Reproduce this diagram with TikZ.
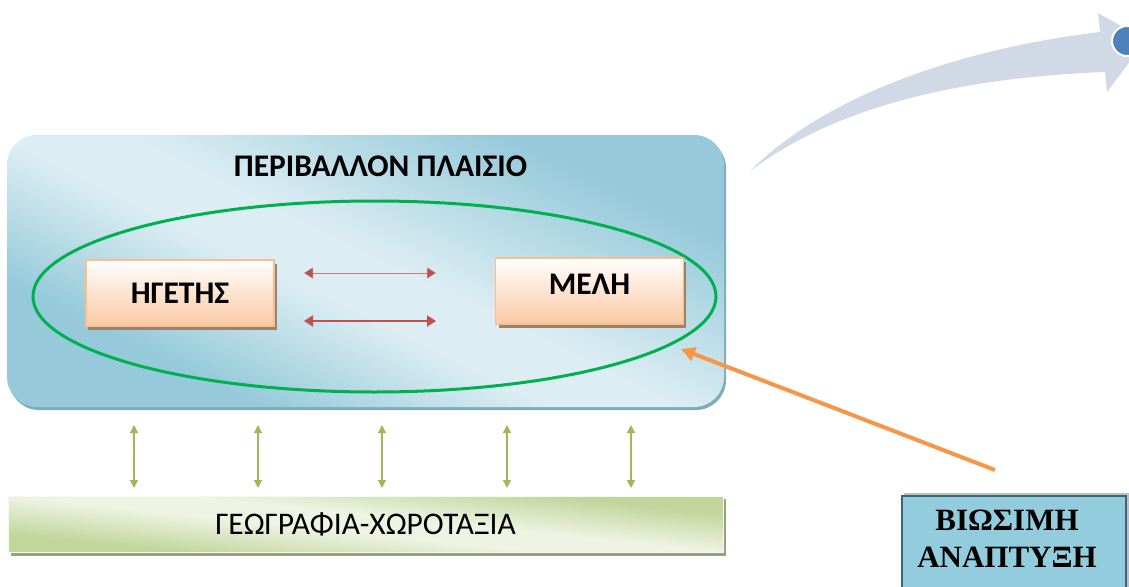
\documentclass[tikz,border=0pt]{standalone}
\usepackage{fontspec}
\setmainfont{Carlito}
\newfontfamily\timesfont{Liberation Serif}
\usetikzlibrary{arrows.meta,calc,shapes.geometric}

\definecolor{envdark}{HTML}{96CADA}
\definecolor{envlight}{HTML}{DCEDF3}
\definecolor{geodark}{HTML}{C2D69C}
\definecolor{geolight}{HTML}{EEF3E3}
\definecolor{peach}{HTML}{FAC9A3}
\definecolor{peachline}{HTML}{F9BF8F}
\definecolor{ovalgreen}{HTML}{00B050}
\definecolor{linkred}{HTML}{C0504D}
\definecolor{linkgreen}{HTML}{9BBB59}
\definecolor{pointorange}{HTML}{F79646}
\definecolor{sdbox}{HTML}{93CDDD}
\definecolor{sdline}{HTML}{3B6878}
\definecolor{flowgrey}{HTML}{D1D9E7}
\definecolor{dotblue}{HTML}{4F81BD}

\pgfdeclarehorizontalshading{envshade}{100bp}{color(0bp)=(envdark); color(30bp)=(envdark); color(45bp)=(envlight); color(52bp)=(envlight); color(72bp)=(envdark); color(100bp)=(envdark)}
\pgfdeclarehorizontalshading{geoshade}{100bp}{color(0bp)=(geodark); color(30bp)=(geodark); color(46bp)=(geolight); color(54bp)=(geolight); color(70bp)=(geodark); color(100bp)=(geodark)}

\tikzset{
  roleshadow/.style={fill=black!35!peach!80!gray, draw=none},
  rolebox/.style={draw=peachline, line width=1.2pt, top color=white, bottom color=peach,
    minimum width=188, minimum height=66, inner sep=0pt,
    font=\fontsize{31.5}{37}\selectfont\bfseries},
  twoway/.style={{Triangle[length=9,width=11]}-{Triangle[length=9,width=11]}, linkred},
  tieline/.style={{Triangle[length=8,width=8]}-{Triangle[length=8,width=8]}, linkgreen, line width=1.3pt},
}

\begin{document}
\begin{tikzpicture}[x=1pt,y=-1pt]
\useasboundingbox (0,0) rectangle (1129,586);

% sweeping arrow at the top right
\fill[flowgrey] (749,172) .. controls (820,100) and (950,50) .. (1100,32)
  -- (1098,13) -- (1146,40) -- (1107,92) -- (1105,72)
  .. controls (950,78) and (830,110) .. (749,172) -- cycle;
\node[circle, fill=dotblue, draw=white, line width=2pt, minimum size=30, inner sep=0pt] (dot) at (1127,41) {};

% surrounding framework
\fill[fill=black!15!envdark, rounded corners=30] (9,138) rectangle (726,410);
\node[rounded corners=30, shading=envshade, shading angle=64,
  minimum width=717, minimum height=272, inner sep=0pt] (env) at (365.5,271) {};
\node[font=\fontsize{31.5}{37}\selectfont\bfseries] (title) at (380.5,166) {ΠΕΡΙΒΑΛΛΟΝ ΠΛΑΙΣΙΟ};

% group oval
\node[ellipse, draw=ovalgreen, line width=3pt, minimum width=683, minimum height=191, inner sep=0pt] (group) at (374.5,296.5) {};

% leader and members
\fill[roleshadow] (88,264) rectangle (277,330);
\node[rolebox] (leader) at (180,293) {ΗΓΕΤΗΣ};
\fill[roleshadow] (499,262) rectangle (686,328);
\node[rolebox] (members) at (589.5,291) {};
\node[font=\fontsize{31.5}{37}\selectfont\bfseries] (memberstext) at (589.5,284) {ΜΕΛΗ};

\coordinate (r1a) at (304,273); \coordinate (r1b) at (436,273);
\coordinate (r2a) at (304,321); \coordinate (r2b) at (436,321);
\draw[twoway, line width=1pt, draw opacity=0.7] (r1a) -- (r1b);
\draw[twoway, line width=2pt] (r2a) -- (r2b);

% geography bar
\fill[black!15!geodark!60!gray] (11,499) rectangle (726,556);
\node[shading=geoshade, shading angle=84, draw=white!85!geodark, line width=0.8pt,
  minimum width=715, minimum height=56, inner sep=0pt,
  font=\fontsize{31.5}{37}\selectfont] (geo) at (365.5,524) {ΓΕΩΓΡΑΦΙΑ-ΧΩΡΟΤΑΞΙΑ};

\foreach \x [count=\i] in {134,258,382,507,631} {
  \coordinate (t\i) at (\x,425);
  \coordinate (b\i) at (\x,488);
  \draw[tieline] (t\i) -- (b\i);
}

% sustainable development
\fill[black!25] (904,493) rectangle (1129,600);
\node[draw=sdline, fill=sdbox, line width=1.5pt, minimum width=224, minimum height=110,
  inner sep=0pt, anchor=north west] (sd) at (901,495) {};
\node[font=\timesfont\fontsize{31}{37}\selectfont\bfseries, align=center] (sdtext) at (1007,539)
  {ΒΙΩΣΙΜΗ\\ΑΝΑΠΤΥΞΗ};

\coordinate (push) at (995,470);
\coordinate (hit) at (681,349);
\draw[pointorange, line width=4pt, -{Triangle[length=14,width=14]}] (push) -- (hit);
\end{tikzpicture}
\end{document}
